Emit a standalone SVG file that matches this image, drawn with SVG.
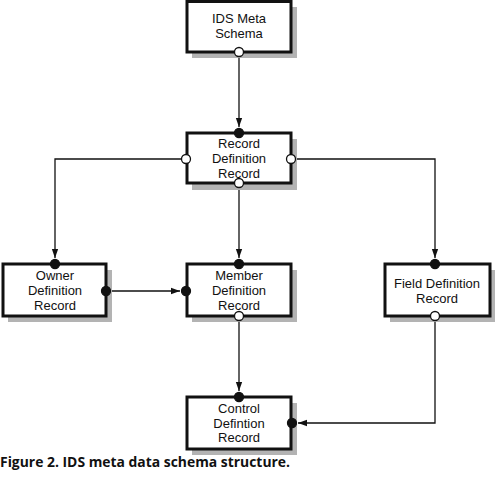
<svg xmlns="http://www.w3.org/2000/svg" width="496" height="480" viewBox="0 0 496 480">
<style>
.sh{fill:#b3b3b3}
.bx{fill:#fff;stroke:#111;stroke-width:3}
.t{font-family:"Liberation Sans",Arial,sans-serif;font-size:13px;fill:#111;text-anchor:middle}
.ln{fill:none;stroke:#111;stroke-width:1.3}
.o{fill:#fff;stroke:#111;stroke-width:1.3}
.f{fill:#111;stroke:#111;stroke-width:1.3}
.cap{font-family:"Open Sans","Liberation Sans",sans-serif;font-size:13.5px;font-weight:bold;fill:#111}
</style>
<defs>
<marker id="ar" viewBox="0 0 10 10" refX="10" refY="5" markerWidth="9" markerHeight="9" markerUnits="userSpaceOnUse" orient="auto">
<path d="M0,1.5 L10,5 L0,8.5 Z" fill="#111"/>
</marker>
</defs>
<rect width="496" height="480" fill="#fff"/>
<g id="connectors">
<path class="ln" d="M239,57 V127" marker-end="url(#ar)"/>
<path class="ln" d="M181,159 H55 V258" marker-end="url(#ar)"/>
<path class="ln" d="M239,188 V258" marker-end="url(#ar)"/>
<path class="ln" d="M295,159 H435 V258" marker-end="url(#ar)"/>
<path class="ln" d="M111,291 H180" marker-end="url(#ar)"/>
<path class="ln" d="M239,321 V391" marker-end="url(#ar)"/>
<path class="ln" d="M435,321 V423 H298" marker-end="url(#ar)"/>
</g>
<g id="ids-meta-schema">
<rect class="sh" x="192" y="7" width="105" height="51"/>
<rect class="bx" x="187" y="1.5" width="104" height="50.5"/>
<text class="t" x="239" y="23">IDS Meta</text>
<text class="t" x="239" y="38">Schema</text>
<circle class="o" cx="239" cy="52" r="4.5"/>
</g>
<g id="record-definition-record">
<rect class="sh" x="192" y="139" width="105" height="51"/>
<rect class="bx" x="187" y="133" width="104" height="50"/>
<text class="t" x="239" y="148">Record</text>
<text class="t" x="239" y="163">Definition</text>
<text class="t" x="239" y="178">Record</text>
<circle class="f" cx="239" cy="133" r="4.5"/>
<circle class="o" cx="186" cy="159" r="4.5"/>
<circle class="o" cx="291" cy="159" r="4.5"/>
<circle class="o" cx="239" cy="183" r="4.5"/>
</g>
<g id="owner-definition-record">
<rect class="sh" x="8" y="270" width="104" height="52"/>
<rect class="bx" x="3" y="264" width="103" height="52"/>
<text class="t" x="55" y="280">Owner</text>
<text class="t" x="55" y="295">Definition</text>
<text class="t" x="55" y="310">Record</text>
<circle class="f" cx="55" cy="264" r="4.5"/>
<circle class="f" cx="106" cy="291" r="4.5"/>
</g>
<g id="member-definition-record">
<rect class="sh" x="192" y="270" width="105" height="52"/>
<rect class="bx" x="187" y="264" width="104" height="52"/>
<text class="t" x="239" y="280">Member</text>
<text class="t" x="239" y="295">Definition</text>
<text class="t" x="239" y="310">Record</text>
<circle class="f" cx="239" cy="264" r="4.5"/>
<circle class="f" cx="186" cy="291" r="4.5"/>
<circle class="o" cx="239" cy="316" r="4.5"/>
</g>
<g id="field-definition-record">
<rect class="sh" x="390" y="270" width="105" height="52"/>
<rect class="bx" x="385" y="264" width="105" height="52"/>
<text class="t" x="437" y="288">Field Definition</text>
<text class="t" x="437" y="303">Record</text>
<circle class="f" cx="435" cy="264" r="4.5"/>
<circle class="o" cx="435" cy="316" r="4.5"/>
</g>
<g id="control-definition-record">
<rect class="sh" x="192" y="403" width="105" height="52"/>
<rect class="bx" x="187" y="397" width="104" height="52"/>
<text class="t" x="239" y="413">Control</text>
<text class="t" x="239" y="428">Defintion</text>
<text class="t" x="239" y="442">Record</text>
<circle class="f" cx="239" cy="397" r="4.5"/>
<circle class="f" cx="292" cy="423" r="4.5"/>
</g>
<text class="cap" x="0" y="467" textLength="290" lengthAdjust="spacingAndGlyphs">Figure 2. IDS meta data schema structure.</text>
</svg>
